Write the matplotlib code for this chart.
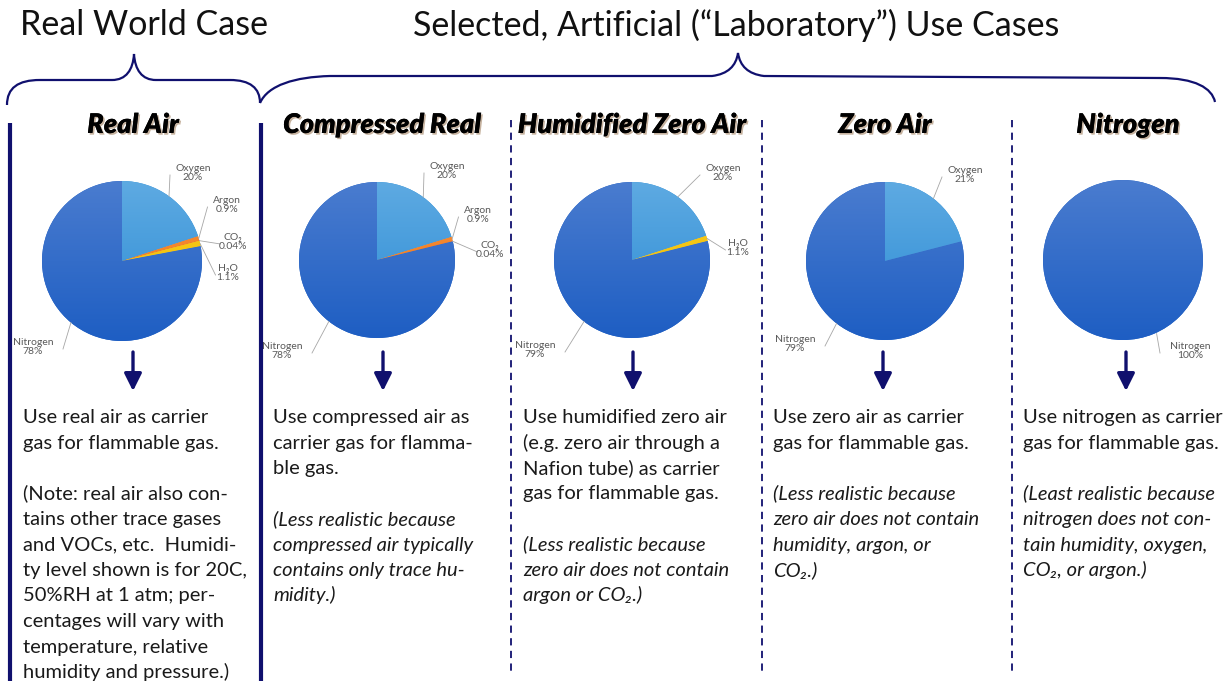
import numpy as np
import matplotlib
matplotlib.use("Agg")
import matplotlib.pyplot as plt
import matplotlib.patheffects as pe
from matplotlib.path import Path
from matplotlib.patches import PathPatch
from matplotlib.colors import LinearSegmentedColormap

W, H = 1231, 681
FONT = ["Lato", "DejaVu Sans"]
NAVY = "#10106e"

# ============================================================
# DATA
# ============================================================

case_titles = ["Real Air", "Compressed Real", "Humidified Zero Air", "Zero Air", "Nitrogen"]

real_air_gases = ["Oxygen", "Argon", "CO₂", "H₂O", "Nitrogen"]
real_air_pct = [20, 0.9, 0.04, 1.1, 78]

compressed_gases = ["Oxygen", "Argon", "CO₂", "Nitrogen"]
compressed_pct = [20, 0.9, 0.04, 78]

humidified_gases = ["Oxygen", "H₂O", "Nitrogen"]
humidified_pct = [20, 1.1, 79]

zero_air_gases = ["Oxygen", "Nitrogen"]
zero_air_pct = [21, 79]

nitrogen_gases = ["Nitrogen"]
nitrogen_pct = [100]

pies = [
    (real_air_gases, real_air_pct),
    (compressed_gases, compressed_pct),
    (humidified_gases, humidified_pct),
    (zero_air_gases, zero_air_pct),
    (nitrogen_gases, nitrogen_pct),
]

use_text = [
    ["Use real air as carrier", "gas for flammable gas."],
    ["Use compressed air as", "carrier gas for flamma-", "ble gas."],
    ["Use humidified zero air", "(e.g. zero air through a", "Nafion tube) as carrier",
     "gas for flammable gas."],
    ["Use zero air as carrier", "gas for flammable gas."],
    ["Use nitrogen as carrier", "gas for flammable gas."],
]

note_text = [
    ["(Note: real air also con-", "tains other trace gases", "and VOCs, etc.  Humidi-",
     "ty level shown is for 20C,", "50%RH at 1 atm; per-", "centages will vary with",
     "temperature, relative", "humidity and pressure.)"],
    ["(Less realistic because", "compressed air typically", "contains only trace hu-",
     "midity.)"],
    ["(Less realistic because", "zero air does not contain", "argon or CO₂.)"],
    ["(Less realistic because", "zero air does not contain", "humidity, argon, or",
     "CO₂.)"],
    ["(Least realistic because", "nitrogen does not con-", "tain humidity, oxygen,",
     "CO₂, or argon.)"],
]
note_italic = [False, True, True, True, True]

gas_colors = {
    "Oxygen": ("#5eaae2", "#2a8bd4"),
    "Nitrogen": ("#4a7ccf", "#1e5ec3"),
    "Argon": ("#f7923a", "#ef7418"),
    "CO₂": ("#e8502a", "#d8401c"),
    "H₂O": ("#f8cf20", "#f0b800"),
}

# ============================================================
# LAYOUT (pixels)
# ============================================================

col_x = [133, 383, 633, 883, 1126]
text_x = [23, 273, 523, 773, 1023]
title_x = [133, 382, 632, 885, 1128]
pie_center = [(122, 261), (377, 260), (632, 260), (885, 261), (1123, 260)]
pie_r = [80, 78, 78, 79, 80]

label_pos = [
    {"Oxygen": (193, 173), "Argon": (227, 205), "CO₂": (233, 242), "H₂O": (228, 273),
     "Nitrogen": (33, 347)},
    {"Oxygen": (447, 171), "Argon": (478, 215), "CO₂": (490, 250), "Nitrogen": (282, 351)},
    {"Oxygen": (723, 173), "H₂O": (738, 248), "Nitrogen": (535, 350)},
    {"Oxygen": (965, 175), "Nitrogen": (795, 344)},
    {"Nitrogen": (1190, 351)},
]

fig = plt.figure(figsize=(W / 100, H / 100), dpi=100)
fig.patch.set_facecolor("white")

# ============================================================
# PIES
# ============================================================

for i, (gases, pct) in enumerate(pies):
    cx, cy = pie_center[i]
    r = pie_r[i]
    pax = fig.add_axes([(cx - r) / W, 1 - (cy + r) / H, 2 * r / W, 2 * r / H])
    wedges, _ = pax.pie(pct, startangle=90, counterclock=False, radius=1,
                        colors=[gas_colors[g][1] for g in gases],
                        wedgeprops=dict(linewidth=0))
    grad = np.linspace(0, 1, 256).reshape(-1, 1)
    for g, w in zip(gases, wedges):
        cmap = LinearSegmentedColormap.from_list(g, [gas_colors[g][0], gas_colors[g][1]])
        im = pax.imshow(grad, extent=[-1, 1, -1, 1], cmap=cmap, origin="upper",
                        aspect="auto", zorder=2)
        im.set_clip_path(w)
    pax.set_xlim(-1, 1)
    pax.set_ylim(-1, 1)
    pax.set_aspect("equal")
    pax.axis("off")

# ============================================================
# OVERLAY
# ============================================================

ax = fig.add_axes([0, 0, 1, 1])
ax.set_xlim(0, W)
ax.set_ylim(H, 0)
ax.axis("off")
ax.patch.set_alpha(0)

# headers
ax.text(144, 25, "Real World Case", ha="center", va="center", fontsize=24.5,
        family=FONT, color="#111111")
ax.text(736, 25, "Selected, Artificial (\u201cLaboratory\u201d) Use Cases", ha="center",
        va="center", fontsize=24.5, family=FONT, color="#111111")

# braces
def brace(points, codes):
    ax.add_patch(PathPatch(Path(points, codes), fill=False, edgecolor=NAVY, lw=1.6))

M, L, C = Path.MOVETO, Path.LINETO, Path.CURVE4
brace(
    [(7, 105), (7, 88), (18, 80), (40, 80), (112, 80), (126, 80), (133, 70), (134, 54),
     (135, 70), (142, 80), (156, 80), (230, 80), (250, 80), (260, 88), (260, 103)],
    [M, C, C, C, L, C, C, C, C, C, C, L, C, C, C],
)
brace(
    [(260, 103), (268, 85), (295, 77), (330, 76), (712, 76), (728, 74), (736, 66), (738, 53),
     (740, 66), (748, 74), (764, 76), (1160, 78), (1195, 78), (1212, 88), (1215, 102)],
    [M, C, C, C, L, C, C, C, C, C, C, L, C, C, C],
)

# column separators
for x in [10, 261]:
    ax.plot([x, x], [123, H], color=NAVY, lw=3, solid_capstyle="butt")
for x in [511, 762, 1012]:
    ax.plot([x, x], [120, 676], color=NAVY, lw=1.3, dashes=(4, 3))

# titles
for t, x in zip(case_titles, title_x):
    ax.text(x, 125, t, ha="center", va="center", fontsize=19.5, fontweight="heavy",
            fontstyle="italic", family=FONT, color="black",
            path_effects=[pe.withSimplePatchShadow(offset=(1.2, -1.2),
                                                   shadow_rgbFace="#a08060", alpha=0.6),
                          pe.Normal()])

# pie labels with leader lines
for i, (gases, pct) in enumerate(pies):
    cx, cy = pie_center[i]
    r = pie_r[i]
    total = sum(pct)
    start = 90.0
    for g, v in zip(gases, pct):
        span = 360.0 * v / total
        mid = np.deg2rad(start - span / 2)
        start -= span
        lx, ly = label_pos[i][g]
        ax.text(lx, ly, f"{g}\n{v:g}%", ha="center", va="center", fontsize=7.5,
                family=FONT, color="#595959", linespacing=1.1)
        if len(gases) == 1:
            ax_, ay_ = cx + r * 0.42, cy + r * 0.92
        else:
            ax_, ay_ = cx + r * np.cos(mid), cy - r * np.sin(mid)
        half = 3.5 * len(g) + 2
        ex = lx - half if lx > cx else lx + half
        ax.plot([ax_, ex], [ay_, ly + 2], color="#a6a6a6", lw=0.6)

# arrows
for x in col_x:
    ax.annotate("", xy=(x, 391), xytext=(x, 352),
                arrowprops=dict(arrowstyle="-|>,head_length=0.7,head_width=0.35",
                                color=NAVY, lw=2.4, mutation_scale=15,
                                shrinkA=0, shrinkB=0))

# body text
LH = 25.5
for i in range(5):
    y = 423
    for line in use_text[i]:
        ax.text(text_x[i], y, line, ha="left", va="baseline", fontsize=14.5,
                family=FONT, color="#1a1a1a")
        y += LH
    y += LH
    for line in note_text[i]:
        ax.text(text_x[i], y, line, ha="left", va="baseline", fontsize=14.5,
                family=FONT, color="#1a1a1a",
                fontstyle="italic" if note_italic[i] else "normal")
        y += LH

fig.savefig("out.png", dpi=100, facecolor="white")
